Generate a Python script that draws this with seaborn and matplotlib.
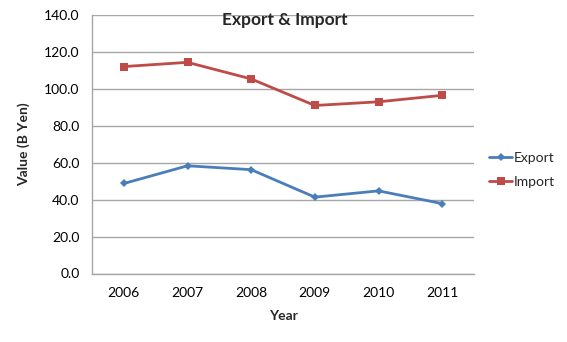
import matplotlib
matplotlib.use("Agg")
import matplotlib.pyplot as plt
import seaborn as sns
import pandas as pd
from matplotlib.ticker import FixedLocator, FormatStrFormatter
from matplotlib.lines import Line2D

years = ["2006", "2007", "2008", "2009", "2010", "2011"]
export_vals = [48.8, 58.4, 56.3, 41.4, 44.8, 37.9]
import_vals = [112.2, 114.5, 105.5, 91.1, 93.1, 96.6]
series_names = ["Export", "Import"]

df = pd.DataFrame({
    "Year": years * 2,
    "Value": export_vals + import_vals,
    "Series": [series_names[0]] * len(years) + [series_names[1]] * len(years),
})

sns.set_style("white")
plt.rcParams["font.family"] = ["Lato", "DejaVu Sans"]

fig = plt.figure(figsize=(5.67, 3.42), dpi=100)
ax = fig.add_axes([92 / 567, 1 - 273.5 / 342, (474 - 92) / 567, (273.5 - 15.3) / 342])

palette = {"Export": "#4A7EBB", "Import": "#BE4B48"}
sns.lineplot(data=df, x="Year", y="Value", hue="Series", style="Series",
             markers={"Export": "D", "Import": "s"}, dashes=False,
             palette=palette, linewidth=2.0, markeredgewidth=0,
             ax=ax, legend=False, sort=False)
for line in ax.get_lines():
    if line.get_marker() == "D":
        line.set_markersize(4.5)
    else:
        line.set_markersize(6)

ax.set_xlim(-0.5, len(years) - 0.5)
ax.set_ylim(0, 140)
ax.yaxis.set_major_locator(FixedLocator([0, 20, 40, 60, 80, 100, 120, 140]))
ax.yaxis.set_major_formatter(FormatStrFormatter("%.1f"))
ax.grid(axis="y", color="#A6A6A6", linewidth=1)
ax.grid(axis="x", visible=False)
ax.set_axisbelow(True)

for s in ["top", "right"]:
    ax.spines[s].set_visible(False)
for s in ["left", "bottom"]:
    ax.spines[s].set_color("#A6A6A6")
    ax.spines[s].set_linewidth(1)

ax.set_xticks(range(len(years)))
ax.set_xticklabels(years)
ax.set_xticks([i - 0.5 for i in range(len(years) + 1)], minor=True)
ax.tick_params(axis="x", which="major", length=0, pad=10, labelsize=10, colors="black")
ax.tick_params(axis="x", which="minor", length=5, width=1, color="#A6A6A6", direction="out")
ax.tick_params(axis="y", which="major", length=5, width=1, color="#A6A6A6", direction="out",
               labelsize=10, pad=4, labelcolor="black")
ax.tick_params(axis="x", labelcolor="black")

ax.set_xlabel("Year", fontsize=10, fontweight="bold", labelpad=8)
ax.set_ylabel("Value (B Yen)", fontsize=10, fontweight="bold", labelpad=10)

fig.text(0.503, 1 - 20 / 342, "Export & Import", ha="center", va="center",
         fontsize=12.5, fontweight="bold")

handles = [Line2D([], [], color=palette["Export"], marker="D", markersize=4, linewidth=2, markeredgewidth=0),
           Line2D([], [], color=palette["Import"], marker="s", markersize=6, linewidth=2, markeredgewidth=0)]
fig.legend(handles, series_names, loc="center left", bbox_to_anchor=(0.857, 1 - 170 / 342),
           frameon=False, fontsize=10, handlelength=1.7, handletextpad=0.1,
           labelspacing=0.85, borderpad=0.2, borderaxespad=0)

fig.savefig("out.png", dpi=100)
